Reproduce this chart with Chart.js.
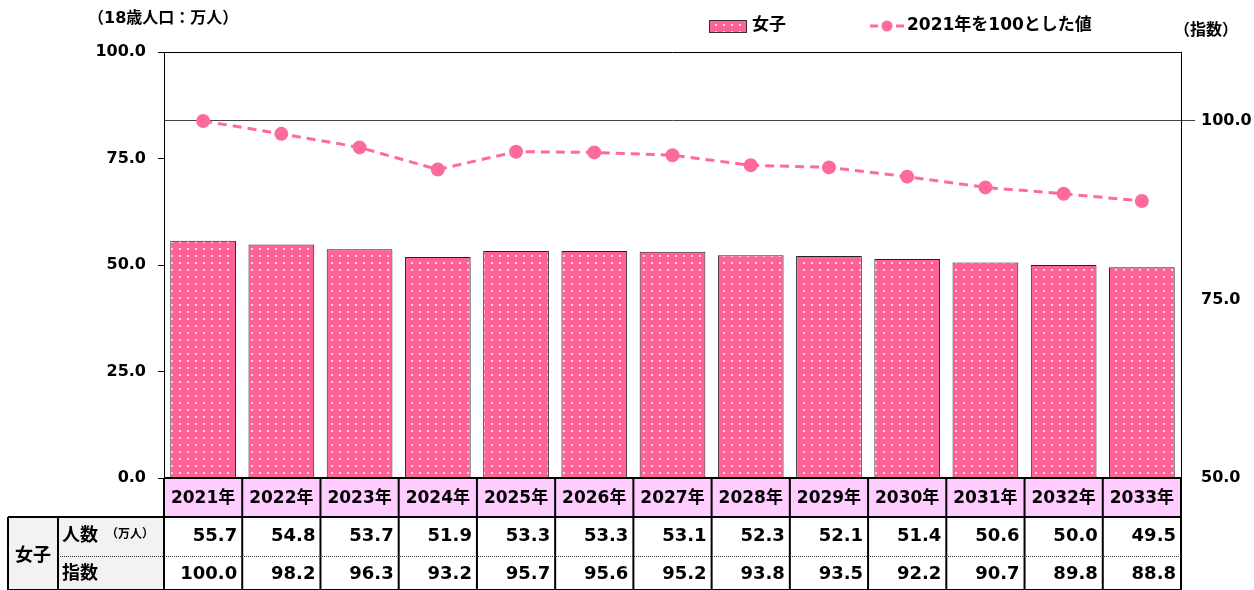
<!DOCTYPE html>
<html>
<head>
<meta charset="utf-8">
<script src="https://cdn.jsdelivr.net/npm/chart.js@4.4.1/dist/chart.umd.min.js"></script>
<style>
  html, body { margin: 0; padding: 0; background: #fff; }
  #wrap { position: relative; width: 1254px; height: 590px; }
</style>
</head>
<body>
<div id="wrap"><canvas id="chart" width="1254" height="590"></canvas></div>
<script>
// data
const years = ['2021年','2022年','2023年','2024年','2025年','2026年','2027年','2028年','2029年','2030年','2031年','2032年','2033年'];
const girls = [55.7, 54.8, 53.7, 51.9, 53.3, 53.3, 53.1, 52.3, 52.1, 51.4, 50.6, 50.0, 49.5];
const girlsIndex = [100.0, 98.2, 96.3, 93.2, 95.7, 95.6, 95.2, 93.8, 93.5, 92.2, 90.7, 89.8, 88.8];
const leftTicks = [0, 25, 50, 75, 100];
const rightTicks = [50, 75, 100];

const PINK = '#FF6396';
const LINE_PINK = '#FF6A9E';
const FONT = "'DejaVu Sans', 'Noto Sans CJK JP', sans-serif";

// dotted pink fill like the original bars
function makePattern() {
    const c = document.createElement('canvas');
    c.width = 8; c.height = 7;
    const g = c.getContext('2d');
    g.fillStyle = PINK;
    g.fillRect(0, 0, 8, 7);
    g.fillStyle = 'rgba(255,255,255,0.7)';
    g.fillRect(3, 3, 2, 2);
    return document.getElementById('chart').getContext('2d').createPattern(c, 'repeat');
}
const barFill = makePattern();

const extras = {
    id: 'extras',
    afterDraw(chart) {
        const ctx = chart.ctx;
        const area = chart.chartArea;
        const x = chart.scales.x;
        const cellW = x.width / years.length;
        ctx.save();

        // frame top
        ctx.strokeStyle = '#000';
        ctx.lineWidth = 1;
        ctx.beginPath();
        ctx.moveTo(area.left, area.top + 0.5);
        ctx.lineTo(area.right, area.top + 0.5);
        ctx.stroke();

        // titles
        ctx.fillStyle = '#000';
        ctx.textBaseline = 'middle';
        ctx.font = 'bold 16px ' + FONT;
        ctx.textAlign = 'left';
        ctx.fillText('（18歳人口：万人）', 88, 19);
        ctx.fillText('（指数）', 1174, 31);

        // legend
        const ds = chart.data.datasets;
        ctx.fillStyle = barFill;
        ctx.fillRect(709, 20, 38, 13);
        ctx.strokeStyle = '#333';
        ctx.strokeRect(709.5, 20.5, 37, 12);
        ctx.fillStyle = '#000';
        ctx.font = 'bold 17px ' + FONT;
        ctx.fillText(ds[0].label, 752, 26);
        ctx.strokeStyle = LINE_PINK;
        ctx.lineWidth = 3;
        ctx.setLineDash([8, 5]);
        ctx.beginPath();
        ctx.moveTo(870, 26);
        ctx.lineTo(904, 26);
        ctx.stroke();
        ctx.setLineDash([]);
        ctx.fillStyle = LINE_PINK;
        ctx.beginPath();
        ctx.arc(887, 26, 5.5, 0, Math.PI * 2);
        ctx.fill();
        ctx.fillStyle = '#000';
        ctx.fillText(ds[1].label, 907, 26);

        // table under the chart
        const hTop = area.bottom, hBot = hTop + 39;
        const r1 = hBot + 39, r2 = 590;
        const left0 = 8, left1 = 58;

        ctx.fillStyle = '#FFCCFF';
        ctx.fillRect(area.left, hTop, area.right - area.left, hBot - hTop);
        ctx.fillStyle = '#F2F2F2';
        ctx.fillRect(left0, hBot, area.left - left0, r2 - hBot);

        ctx.strokeStyle = '#000';
        ctx.lineWidth = 2;
        ctx.beginPath();
        // horizontal lines
        ctx.moveTo(area.left, hTop); ctx.lineTo(area.right, hTop);
        ctx.moveTo(left0, hBot); ctx.lineTo(area.right, hBot);
        ctx.moveTo(left0, r2); ctx.lineTo(area.right, r2);
        // vertical lines
        ctx.moveTo(left0, hBot); ctx.lineTo(left0, r2);
        ctx.moveTo(left1, hBot); ctx.lineTo(left1, r2);
        for (let i = 0; i <= years.length; i++) {
            const xx = area.left + i * cellW;
            ctx.moveTo(xx, hTop); ctx.lineTo(xx, r2);
        }
        ctx.stroke();

        // dotted separator
        ctx.lineWidth = 1;
        ctx.strokeStyle = '#333';
        ctx.setLineDash([1, 1]);
        ctx.beginPath();
        ctx.moveTo(left1, r1 + 0.5); ctx.lineTo(area.right, r1 + 0.5);
        ctx.stroke();
        ctx.setLineDash([]);

        ctx.fillStyle = '#000';
        ctx.font = 'bold 17px ' + FONT;
        ctx.textAlign = 'center';
        years.forEach((y, i) => {
            ctx.fillText(y, x.getPixelForValue(i), (hTop + hBot) / 2 + 1);
        });
        ctx.font = 'bold 18px ' + FONT;
        ctx.fillText('女子', (left0 + left1) / 2, (hBot + r2) / 2 + 3);
        ctx.textAlign = 'left';
        ctx.fillText('人数', 62, (hBot + r1) / 2);
        ctx.fillText('指数', 62, (r1 + r2) / 2 + 1);
        ctx.font = 'bold 12px ' + FONT;
        ctx.fillText('（万人）', 106, (hBot + r1) / 2 - 2);

        ctx.font = 'bold 18px ' + FONT;
        ctx.textAlign = 'right';
        girls.forEach((v, i) => {
            const right = area.left + (i + 1) * cellW - 5;
            ctx.fillText(v.toFixed(1), right, (hBot + r1) / 2);
            ctx.fillText(girlsIndex[i].toFixed(1), right, (r1 + r2) / 2 + 1);
        });
        ctx.restore();
    }
};

new Chart(document.getElementById('chart'), {
    type: 'bar',
    data: {
        labels: years,
        datasets: [{
            type: 'bar',
            label: '女子',
            data: girls,
            yAxisID: 'y',
            backgroundColor: barFill,
            borderColor: '#222',
            borderWidth: 1,
            barPercentage: 0.84,
            categoryPercentage: 1.0,
            order: 2
        }, {
            type: 'line',
            label: '2021年を100とした値',
            data: girlsIndex,
            yAxisID: 'y1',
            borderColor: LINE_PINK,
            backgroundColor: LINE_PINK,
            borderWidth: 3,
            borderDash: [9, 6],
            pointRadius: 5.5,
            pointBackgroundColor: LINE_PINK,
            pointBorderColor: LINE_PINK,
            tension: 0,
            order: 1
        }]
    },
    options: {
        responsive: false,
        animation: false,
        layout: { padding: { top: 52, bottom: 112, left: 0, right: 0 } },
        plugins: {
            legend: { display: false },
            tooltip: { enabled: false }
        },
        scales: {
            x: { display: false },
            y: {
                position: 'left',
                min: 0,
                max: 100,
                afterBuildTicks: s => { s.ticks = leftTicks.map(v => ({ value: v })); },
                afterFit: s => { s.width = 164; },
                ticks: {
                    color: '#000',
                    padding: 12,
                    font: { family: FONT, size: 16, weight: 'bold' },
                    callback: v => v.toFixed(1)
                },
                grid: { drawOnChartArea: false, tickLength: 6, color: '#000' },
                border: { display: true, color: '#000', width: 1 }
            },
            y1: {
                position: 'right',
                min: 50,
                max: 109.66,
                afterBuildTicks: s => { s.ticks = rightTicks.map(v => ({ value: v })); },
                afterFit: s => { s.width = 73; },
                ticks: {
                    color: '#000',
                    padding: 6,
                    font: { family: FONT, size: 16, weight: 'bold' },
                    callback: v => v.toFixed(1)
                },
                grid: {
                    drawOnChartArea: true,
                    tickLength: 14,
                    color: c => (c.tick && c.tick.value === 100) ? '#444' : 'rgba(0,0,0,0)',
                    lineWidth: 1
                },
                border: { display: true, color: '#000', width: 1 }
            }
        }
    },
    plugins: [extras]
});
</script>
</body>
</html>
